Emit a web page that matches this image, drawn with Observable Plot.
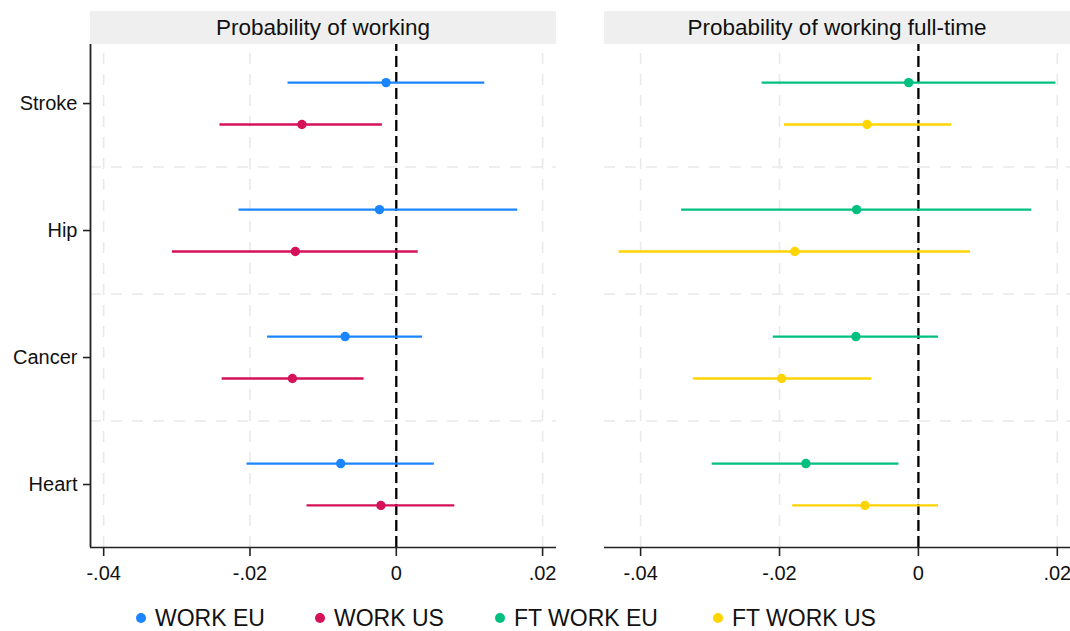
<!DOCTYPE html>
<html>
<head>
<meta charset="utf-8">
<script src="https://cdn.jsdelivr.net/npm/d3@7"></script>
<script src="https://cdn.jsdelivr.net/npm/@observablehq/plot@0.6"></script>
<style>
  html, body { margin: 0; padding: 0; background: #fff; }
  #root { position: relative; width: 1070px; height: 631px; overflow: hidden; font-family: "Liberation Sans", Arial, sans-serif; color: #111; }
  .strip { position: absolute; top: 11px; height: 33px; line-height: 33px; background: #efefef; text-align: center; font-size: 22.5px; color: #111; }
  .panel { position: absolute; top: 44px; }
  .panel svg { overflow: visible; }
  .leg { position: absolute; top: 605px; font-size: 23px; line-height: 26px; white-space: nowrap; color: #111; }
  .leg .dot { position: absolute; left: 0; top: 8px; width: 10px; height: 10px; border-radius: 50%; }
  .leg .lab { position: absolute; left: 19px; top: 0; }
</style>
</head>
<body>
<div id="root"></div>
<script>
// ---- data ----
const diseases = ["Stroke", "Hip", "Cancer", "Heart"];
const xTicks = [-0.04, -0.02, 0, 0.02];

const seriesNames = ["WORK EU", "WORK US", "FT WORK EU", "FT WORK US"];
const seriesColors = ["#1a85ff", "#d41159", "#00bf7f", "#ffd400"];

// Probability of working
const workEU_est = [-0.0014, -0.0023, -0.0070, -0.0076];
const workEU_lo  = [-0.0148, -0.0215, -0.0176, -0.0204];
const workEU_hi  = [ 0.0121,  0.0166,  0.0036,  0.0052];
const workUS_est = [-0.0129, -0.0138, -0.0142, -0.0021];
const workUS_lo  = [-0.0241, -0.0306, -0.0238, -0.0122];
const workUS_hi  = [-0.0019,  0.0030, -0.0044,  0.0080];

// Probability of working full-time
const ftEU_est = [-0.0014, -0.0089, -0.0090, -0.0162];
const ftEU_lo  = [-0.0225, -0.0341, -0.0209, -0.0297];
const ftEU_hi  = [ 0.0198,  0.0163,  0.0029, -0.0028];
const ftUS_est = [-0.0074, -0.0178, -0.0197, -0.0077];
const ftUS_lo  = [-0.0193, -0.0431, -0.0324, -0.0181];
const ftUS_hi  = [ 0.0048,  0.0075, -0.0067,  0.0029];

// ---- build rows ----
const n = diseases.length;
const OFF = 0.165;
function rows(est, lo, hi, offset) {
  return diseases.map((d, i) => ({disease: d, pos: (n - i) + offset, est: est[i], lo: lo[i], hi: hi[i]}));
}
const yDomain = [0.504, 4.465];
const gridY = d3.range(1.5, n, 1);
const fmt = d => d === 0 ? "0" : d3.format(".2f")(d).replace("\u2212", "-").replace("0.", ".");

function panel(xDomain, sA, sB, colA, colB, showY, width, marginLeft) {
  const gridStyle = {stroke: "#e9e9e9", strokeWidth: 1.6, strokeDasharray: "11,10"};
  const marks = [
    Plot.ruleX(xTicks, {x: d => d, y1: yDomain[0], y2: yDomain[1], ...gridStyle}),
    Plot.ruleY(gridY, {y: d => d, x1: xDomain[0], x2: xDomain[1], ...gridStyle}),
    Plot.ruleX([0], {y1: yDomain[0], y2: yDomain[1], stroke: "#000", strokeWidth: 2.3, strokeDasharray: "11,5"}),
    Plot.ruleY(sA, {y: "pos", x1: "lo", x2: "hi", stroke: colA, strokeWidth: 2.3}),
    Plot.ruleY(sB, {y: "pos", x1: "lo", x2: "hi", stroke: colB, strokeWidth: 2.3}),
    Plot.dot(sA, {x: "est", y: "pos", r: 4.7, fill: colA}),
    Plot.dot(sB, {x: "est", y: "pos", r: 4.7, fill: colB}),
    Plot.ruleY([yDomain[0]], {stroke: "#222", strokeWidth: 1.6}),
    Plot.axisX({ticks: xTicks, tickFormat: fmt, tickSize: 9, tickPadding: 9, stroke: "#222", fill: "#111", fontSize: 20, strokeWidth: 1.6, label: null})
  ];
  if (showY) {
    marks.push(Plot.ruleX([xDomain[0]], {stroke: "#222", strokeWidth: 1.8}));
    marks.push(Plot.axisY({ticks: d3.range(1, n + 1), tickFormat: v => diseases[n - v], tickSize: 7, tickPadding: 6, stroke: "#222", fill: "#111", fontSize: 20, strokeWidth: 1.6, label: null}));
  }
  return Plot.plot({
    width, height: 553,
    marginLeft, marginRight: 0, marginTop: 0, marginBottom: 50,
    style: {fontFamily: "'Liberation Sans', Arial, sans-serif", fontSize: "20px", background: "transparent", overflow: "visible"},
    x: {domain: xDomain, axis: null, label: null},
    y: {domain: yDomain, axis: null, label: null},
    marks
  });
}

const root = document.getElementById("root");

const leftPlot = panel([-0.0418, 0.0219],
  rows(workEU_est, workEU_lo, workEU_hi, OFF), rows(workUS_est, workUS_lo, workUS_hi, -OFF),
  seriesColors[0], seriesColors[1], true, 556, 90);
const leftDiv = document.createElement("div");
leftDiv.className = "panel"; leftDiv.style.left = "0px";
leftDiv.appendChild(leftPlot); root.appendChild(leftDiv);

const rightPlot = panel([-0.0452, 0.0219],
  rows(ftEU_est, ftEU_lo, ftEU_hi, OFF), rows(ftUS_est, ftUS_lo, ftUS_hi, -OFF),
  seriesColors[2], seriesColors[3], false, 466, 0);
const rightDiv = document.createElement("div");
rightDiv.className = "panel"; rightDiv.style.left = "604px";
rightDiv.appendChild(rightPlot); root.appendChild(rightDiv);

// strips
const titles = ["Probability of working", "Probability of working full-time"];
[[90, 466], [604, 466]].forEach(([l, w], i) => {
  const s = document.createElement("div");
  s.className = "strip"; s.style.left = l + "px"; s.style.width = w + "px";
  s.textContent = titles[i];
  root.appendChild(s);
});

// legend
const legLeft = [136, 315, 495, 713];
seriesNames.forEach((name, i) => {
  const it = document.createElement("div");
  it.className = "leg"; it.style.left = legLeft[i] + "px";
  const dot = document.createElement("span"); dot.className = "dot"; dot.style.background = seriesColors[i];
  const lab = document.createElement("span"); lab.className = "lab"; lab.textContent = name;
  it.appendChild(dot); it.appendChild(lab);
  root.appendChild(it);
});
</script>
</body>
</html>
